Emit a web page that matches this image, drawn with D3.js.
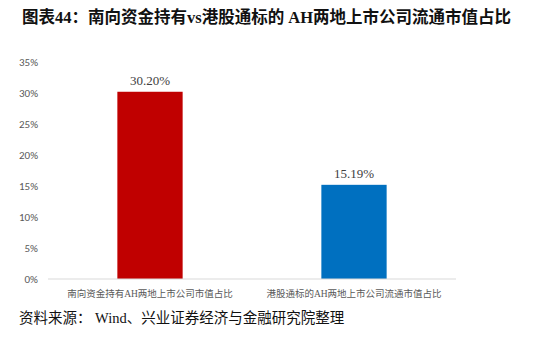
<!DOCTYPE html>
<html>
<head>
  <meta charset="utf-8">
  <script src="https://cdn.jsdelivr.net/npm/d3@7"></script>
  <style>
    body { margin: 0; background: #fff; }
  </style>
</head>
<body>
  <script>
    const width = 550;
    const height = 337;

    const categories = ['南向资金持有AH两地上市公司市值占比', '港股通标的AH两地上市公司流通市值占比'];
    const values = [30.20, 15.19];
    const colors = ['#C00000', '#0070C0'];
    const yTicks = [0, 5, 10, 15, 20, 25, 30, 35];

    const svg = d3.select('body').append('svg')
      .attr('width', width)
      .attr('height', height);

    const cjk = '"Liberation Serif", "Noto Sans CJK SC", serif';

    // title
    svg.append('text')
      .attr('x', 22)
      .attr('y', 23)
      .style('font-family', cjk)
      .style('font-weight', 'bold')
      .style('font-size', '16.5px')
      .style('fill', '#111')
      .text('图表44：南向资金持有vs港股通标的 AH两地上市公司流通市值占比');

    const x = d3.scaleBand()
      .domain(categories)
      .range([48, 456])
      .paddingInner(0.68)
      .paddingOuter(0.34);

    const y = d3.scaleLinear()
      .domain([0, 35])
      .range([279, 62]);

    // y axis labels
    svg.append('g')
      .attr('transform', 'translate(38,0)')
      .call(d3.axisLeft(y).tickValues(yTicks).tickSize(0).tickPadding(0).tickFormat(d => d + '%'))
      .call(g => g.select('.domain').remove())
      .selectAll('text')
      .style('font-family', 'Calibri, Carlito, "Liberation Sans", sans-serif')
      .style('font-size', '11px')
      .style('fill', '#595959');

    // bars
    svg.selectAll('.bar').data(values).join('rect')
      .attr('class', 'bar')
      .attr('x', (d, i) => x(categories[i]))
      .attr('y', d => y(d))
      .attr('width', x.bandwidth())
      .attr('height', d => y(0) - y(d))
      .style('fill', (d, i) => colors[i]);

    // value labels
    svg.selectAll('.val').data(values).join('text')
      .attr('class', 'val')
      .attr('x', (d, i) => x(categories[i]) + x.bandwidth() / 2)
      .attr('y', d => y(d) - 7)
      .attr('text-anchor', 'middle')
      .style('font-family', '"Liberation Serif", serif')
      .style('font-size', '13px')
      .style('fill', '#404040')
      .text(d => d.toFixed(2) + '%');

    // baseline
    svg.append('line')
      .attr('x1', 48).attr('x2', 456)
      .attr('y1', y(0)).attr('y2', y(0))
      .style('stroke', '#d9d9d9')
      .style('stroke-width', 1);

    // category labels
    svg.selectAll('.cat').data(categories).join('text')
      .attr('class', 'cat')
      .attr('x', d => x(d) + x.bandwidth() / 2)
      .attr('y', 297)
      .attr('text-anchor', 'middle')
      .style('font-family', cjk)
      .style('font-size', '9.5px')
      .style('fill', '#595959')
      .text(d => d);

    // source
    svg.append('text')
      .attr('x', 19)
      .attr('y', 323)
      .style('font-family', cjk)
      .style('font-size', '14.5px')
      .style('fill', '#111')
      .text('资料来源： Wind、兴业证券经济与金融研究院整理');
  </script>
</body>
</html>
